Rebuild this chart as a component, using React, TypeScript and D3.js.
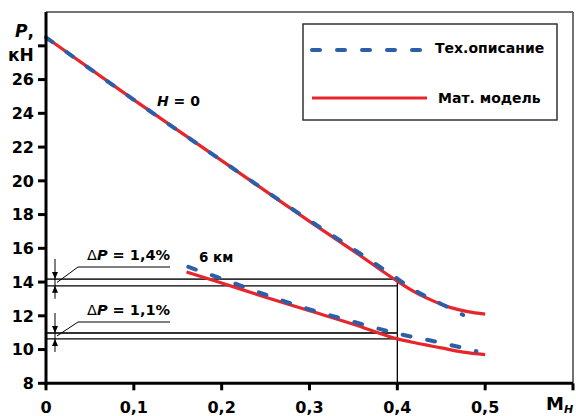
import * as d3 from 'd3';

// Thrust P (kN) vs Mach number, two altitudes
const blueH0X = [0, 0.1, 0.2, 0.3, 0.35, 0.4, 0.42, 0.44, 0.46, 0.475];
const blueH0Y = [28.5, 24.8, 21.2, 17.65, 15.95, 14.2, 13.5, 12.95, 12.45, 12.05];
const redH0X = [0, 0.1, 0.2, 0.3, 0.35, 0.4, 0.42, 0.44, 0.46, 0.48, 0.5];
const redH0Y = [28.5, 24.8, 21.2, 17.6, 15.85, 14.05, 13.4, 12.9, 12.5, 12.25, 12.1];
const blue6X = [0.162, 0.2, 0.25, 0.3, 0.35, 0.4, 0.45, 0.49];
const blue6Y = [14.9, 14.2, 13.25, 12.38, 11.65, 10.95, 10.4, 9.9];
const red6X = [0.16, 0.2, 0.25, 0.3, 0.35, 0.4, 0.42, 0.45, 0.475, 0.5];
const red6Y = [14.6, 13.95, 13.1, 12.3, 11.5, 10.63, 10.4, 10.1, 9.85, 9.7];

const xTicks = [0, 0.1, 0.2, 0.3, 0.4, 0.5, 0.6];
const yTicks = [8, 10, 12, 14, 16, 18, 20, 22, 24, 26, 28];
const yLabels = [8, 10, 12, 14, 16, 18, 20, 22, 24, 26];

// ΔP reference levels at M = 0.4
const markX = 0.4;
const deltaTop = [14.18, 13.78];
const deltaBottom = [10.98, 10.63];

const BLUE = '#2d5fa8';
const RED = '#e8252b';
const FONT = 'DejaVu Sans, sans-serif';

export default function App() {
  const W = 576, H = 416;
  const x = d3.scaleLinear().domain([0, 0.6]).range([46, 573]);
  const y = d3.scaleLinear().domain([8, 30]).range([383.3, 12.1]);

  const line = d3.line<[number, number]>()
    .x(d => x(d[0]))
    .y(d => y(d[1]))
    .curve(d3.curveMonotoneX);

  const zip = (a: number[], b: number[]) => a.map((v, i) => [v, b[i]] as [number, number]);

  const arrowDown = (cx: number, tip: number) => `M${cx - 3},${tip - 7}L${cx + 3},${tip - 7}L${cx},${tip}Z`;
  const arrowUp = (cx: number, tip: number) => `M${cx - 3},${tip + 7}L${cx + 3},${tip + 7}L${cx},${tip}Z`;

  const annot = (levels: number[], label: string, textY: number) => {
    const y1 = y(levels[0]);
    const y2 = y(levels[1]);
    const ax = 55;
    const leaderY = textY + 7;
    return (
      <g>
        {levels.map((v, i) => (
          <line key={i} x1={x(0)} x2={x(markX)} y1={y(v)} y2={y(v)}
            stroke={i === 0 ? '#333' : '#000'} strokeWidth={i === 0 ? 1.8 : 1.3} />
        ))}
        <line x1={ax} x2={ax} y1={y1 - 20} y2={y2 + 13} stroke="#000" strokeWidth={1} />
        <path d={arrowDown(ax, y1)} fill="#000" />
        <path d={arrowUp(ax, y2)} fill="#000" />
        <polyline points={`${ax + 2},${(y1 + y2) / 2} 78,${leaderY} 170,${leaderY}`}
          fill="none" stroke="#000" strokeWidth={1} />
        <text x={87} y={textY} fontFamily={FONT} fontWeight="bold" fontSize={14.5} fill="#000">
          <tspan fontWeight="normal">Δ</tspan>
          <tspan fontStyle="italic">P</tspan>
          {` = ${label}`}
        </text>
      </g>
    );
  };

  return (
    <svg width={W} height={H} style={{ position: 'absolute', left: 0, top: 0, background: '#fff' }}>
      {/* frame */}
      <line x1={x(0)} x2={x(0.6)} y1={y(30)} y2={y(30)} stroke="#444" strokeWidth={1.5} />
      <line x1={x(0.6)} x2={x(0.6)} y1={y(30)} y2={y(8)} stroke="#444" strokeWidth={1.5} />

      {/* ΔP annotations */}
      <line x1={x(markX)} x2={x(markX)} y1={y(deltaTop[0])} y2={y(8)} stroke="#000" strokeWidth={1.3} />
      {annot(deltaTop, '1,4%', 260)}
      {annot(deltaBottom, '1,1%', 315)}

      {/* curves */}
      <path d={line(zip(redH0X, redH0Y)) || ''} fill="none" stroke={RED} strokeWidth={3.2} />
      <path d={line(zip(red6X, red6Y)) || ''} fill="none" stroke={RED} strokeWidth={3.2} />
      <path d={line(zip(blueH0X, blueH0Y)) || ''} fill="none" stroke={BLUE} strokeWidth={4}
        strokeDasharray="8 17" strokeLinecap="round" />
      <path d={line(zip(blue6X, blue6Y)) || ''} fill="none" stroke={BLUE} strokeWidth={4}
        strokeDasharray="8 17" strokeLinecap="round" />

      {/* axes */}
      <line x1={x(0)} x2={x(0)} y1={y(30)} y2={y(8) + 1.5} stroke="#000" strokeWidth={3} />
      <line x1={x(0) - 1.5} x2={x(0.6)} y1={y(8)} y2={y(8)} stroke="#000" strokeWidth={3} />
      {yTicks.map(t => (
        <line key={t} x1={x(0) - 8} x2={x(0)} y1={y(t)} y2={y(t)} stroke="#000" strokeWidth={3} />
      ))}
      {xTicks.map(t => (
        <line key={t} x1={x(t)} x2={x(t)} y1={y(8)} y2={y(8) + 7} stroke="#000" strokeWidth={3} />
      ))}
      {yLabels.map(t => (
        <text key={t} x={34} y={y(t)} dy="0.36em" textAnchor="end"
          fontFamily={FONT} fontWeight="bold" fontSize={16} fill="#000">{t}</text>
      ))}
      {xTicks.slice(0, 6).map(t => (
        <text key={t} x={x(t)} y={413} textAnchor="middle"
          fontFamily={FONT} fontWeight="bold" fontSize={16} fill="#000">
          {t === 0 ? '0' : d3.format('.1f')(t).replace('.', ',')}
        </text>
      ))}

      {/* axis titles */}
      <text x={15} y={37} fontFamily={FONT} fontWeight="bold" fontSize={17} fill="#000">
        <tspan fontStyle="italic">P</tspan>,
      </text>
      <text x={8} y={61} fontFamily={FONT} fontWeight="bold" fontSize={17} fill="#000">кН</text>
      <text x={546} y={410} fontFamily={FONT} fontWeight="bold" fontSize={18} fill="#000">
        M<tspan fontSize={11} fontStyle="italic" dy={3}>H</tspan>
      </text>

      {/* curve labels */}
      <text x={157} y={106} fontFamily={FONT} fontWeight="bold" fontSize={14} fill="#000">
        <tspan fontStyle="italic">H</tspan> = 0
      </text>
      <text x={199} y={262} fontFamily={FONT} fontWeight="bold" fontSize={13.5} fill="#000">6 км</text>

      {/* legend */}
      <rect x={303} y={24} width={254} height={96} fill="#fff" stroke="#333" strokeWidth={1.5} />
      <line x1={312} x2={420} y1={50} y2={50} stroke={BLUE} strokeWidth={4}
        strokeDasharray="8 17" strokeLinecap="round" />
      <line x1={312} x2={427} y1={98} y2={98} stroke={RED} strokeWidth={3.2} />
      <text x={435} y={53} fontFamily={FONT} fontWeight="bold" fontSize={14} fill="#000">Тех.описание</text>
      <text x={438} y={103} fontFamily={FONT} fontWeight="bold" fontSize={14} fill="#000">Мат. модель</text>
    </svg>
  );
}
